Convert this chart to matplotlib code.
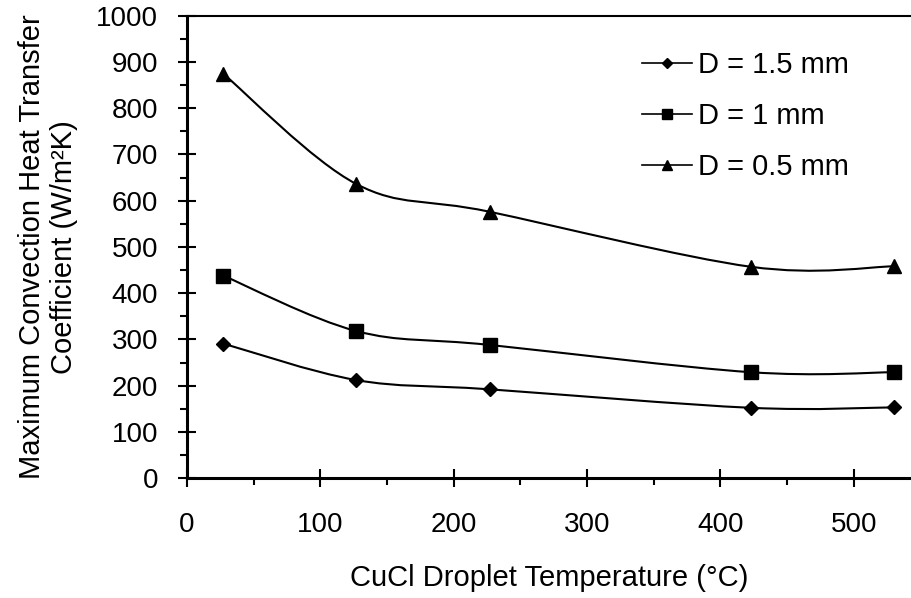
import matplotlib
matplotlib.use("Agg")
import matplotlib.pyplot as plt
from matplotlib.path import Path
from matplotlib.patches import PathPatch
from matplotlib.lines import Line2D
from matplotlib.ticker import MultipleLocator

# droplet temperature (°C)
temps = [27, 127, 227, 423, 530]
# max convection heat transfer coefficient (W/m²K) per droplet diameter
h_d15 = [291, 212, 192, 152, 153]
h_d10 = [438, 318, 288, 229, 229]
h_d05 = [875, 636, 576, 457, 458]
labels = ["D = 1.5 mm", "D = 1 mm", "D = 0.5 mm"]
markers = ["D", "s", "^"]
msizes = [7.5, 10, 10.5]


def smooth_path(xs, ys):
    # Excel-style smoothed line: cubic Bezier, Catmull-Rom tangents
    pts = list(zip(xs, ys))
    n = len(pts)
    verts = [pts[0]]
    codes = [Path.MOVETO]
    for i in range(n - 1):
        p0 = pts[i - 1] if i > 0 else pts[i]
        p1 = pts[i]
        p2 = pts[i + 1]
        p3 = pts[i + 2] if i + 2 < n else pts[i + 1]
        c1 = (p1[0] + (p2[0] - p0[0]) / 6, p1[1] + (p2[1] - p0[1]) / 6)
        c2 = (p2[0] - (p3[0] - p1[0]) / 6, p2[1] - (p3[1] - p1[1]) / 6)
        verts += [c1, c2, p2]
        codes += [Path.CURVE4] * 3
    return Path(verts, codes)


plt.rcParams.update({
    "font.family": ["Liberation Sans", "DejaVu Sans"],
    "font.size": 20,
})

fig = plt.figure(figsize=(9.11, 5.98), dpi=100)
ax = fig.add_axes([0.2053, 0.2005, 0.7947, 0.7732])

handles = []
for ys, lab, mk, ms in zip([h_d15, h_d10, h_d05], labels, markers, msizes):
    ax.add_patch(PathPatch(smooth_path(temps, ys), facecolor="none",
                           edgecolor="black", linewidth=1.5, zorder=2))
    ax.plot(temps, ys, linestyle="none", marker=mk, markersize=ms,
            color="black", zorder=3)
    handles.append(Line2D([], [], color="black", linewidth=1.2, marker=mk,
                          markersize=ms * 0.7))

ax.set_xlim(0, 543)
ax.set_ylim(0, 1000)
ax.xaxis.set_major_locator(MultipleLocator(100))
ax.xaxis.set_minor_locator(MultipleLocator(50))
ax.yaxis.set_major_locator(MultipleLocator(100))
ax.yaxis.set_minor_locator(MultipleLocator(50))

ax.spines["right"].set_visible(False)
ax.spines["left"].set_linewidth(2.2)
ax.spines["bottom"].set_linewidth(2.2)
ax.spines["top"].set_linewidth(1.5)

ax.tick_params(which="major", direction="inout", length=12.5, width=1.5,
               labelsize=20, top=False, right=False)
ax.tick_params(which="minor", direction="out", length=5, width=1.5,
               top=False, right=False)
ax.tick_params(axis="y", which="major", pad=14.5)
ax.tick_params(axis="x", which="major", pad=18)

ax.set_xlabel("CuCl Droplet Temperature (°C)", fontsize=21, labelpad=19)
ax.set_ylabel("Maximum Convection Heat Transfer\nCoefficient (W/m²K)",
              fontsize=21, labelpad=13)

ax.legend(handles, labels, loc="upper right", bbox_to_anchor=(0.95, 0.98),
          frameon=False, fontsize=21, handlelength=1.7, handletextpad=0.2,
          labelspacing=0.79)

fig.savefig("out.png", dpi=100)
